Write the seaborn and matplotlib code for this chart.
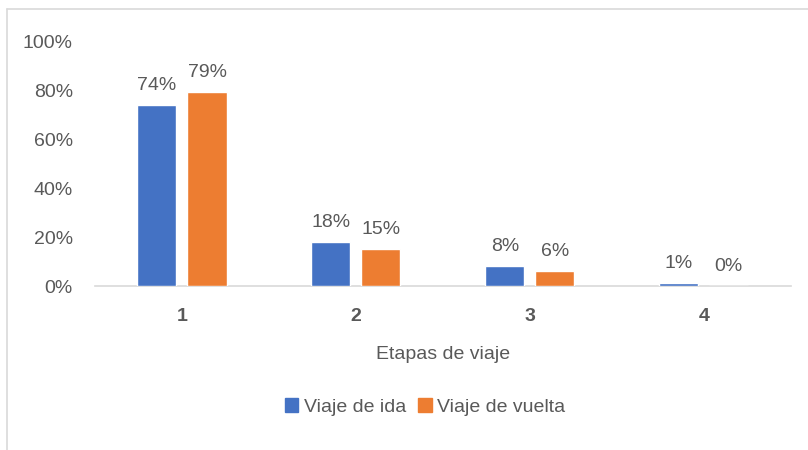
import pandas as pd
import matplotlib.pyplot as plt
import seaborn as sns
from matplotlib.lines import Line2D
from matplotlib.ticker import PercentFormatter

# Data
etapas = ["1", "2", "3", "4"]
viaje_ida = [0.74, 0.18, 0.08, 0.012]
viaje_vuelta = [0.79, 0.15, 0.06, 0.00]
series_names = ["Viaje de ida", "Viaje de vuelta"]
y_ticks = [0, 0.2, 0.4, 0.6, 0.8, 1.0]

df = pd.DataFrame({
    "etapa": etapas * 2,
    "valor": viaje_ida + viaje_vuelta,
    "serie": [series_names[0]] * len(etapas) + [series_names[1]] * len(etapas),
})

sns.set_theme(style="white")
plt.rcParams['font.family'] = ['Liberation Sans', 'DejaVu Sans']

text_color = "#595959"
fs = 14
palette = {"Viaje de ida": "#4472C4", "Viaje de vuelta": "#ED7D31"}

fig = plt.figure(figsize=(8.08, 4.5), dpi=100)
ax = fig.add_axes([0.1176, 0.3644, 0.861, 0.5444])

sns.barplot(data=df, x="etapa", y="valor", hue="serie", palette=palette,
            width=0.576, gap=0.22, saturation=1, ax=ax, legend=True, zorder=3)

ax.set_ylim(0, 1.0)
ax.set_xlim(-0.5, len(etapas) - 0.5)
ax.set_yticks(y_ticks)
ax.yaxis.set_major_formatter(PercentFormatter(1.0, decimals=0))
ax.tick_params(axis='y', length=0, pad=16, labelsize=fs, labelcolor=text_color)
ax.tick_params(axis='x', length=0, pad=16, labelsize=fs, labelcolor=text_color)
for lbl in ax.get_xticklabels():
    lbl.set_fontweight('bold')

for side in ["top", "right", "left"]:
    ax.spines[side].set_visible(False)
ax.spines["bottom"].set_color("#D9D9D9")
ax.spines["bottom"].set_linewidth(1.2)
ax.spines["bottom"].set_zorder(1)

ax.set_ylabel("")
ax.set_xlabel("Etapas de viaje", fontsize=fs, color=text_color, labelpad=15)

for cont in ax.containers:
    ax.bar_label(cont, fmt=lambda v: f"{v:.0%}", padding=8,
                 fontsize=fs, color=text_color)

ax.legend_.remove()
handles = [plt.Rectangle((0, 0), 1, 1, color=palette[n]) for n in series_names]
fig.legend(handles, series_names, loc="center", bbox_to_anchor=(425 / 808, 1 - 407 / 450),
           ncol=2, frameon=False, fontsize=fs, labelcolor=text_color,
           handlelength=0.7, handleheight=0.7, handletextpad=0.3, columnspacing=0.6)

# partial chart border as in the reference
fig.add_artist(Line2D([7 / 808, 7 / 808], [0, 1 - 9 / 450], transform=fig.transFigure,
                      color="#D9D9D9", linewidth=1.2))
fig.add_artist(Line2D([7 / 808, 1], [1 - 9 / 450, 1 - 9 / 450], transform=fig.transFigure,
                      color="#D9D9D9", linewidth=1.2))

fig.savefig("out.png", dpi=100)
